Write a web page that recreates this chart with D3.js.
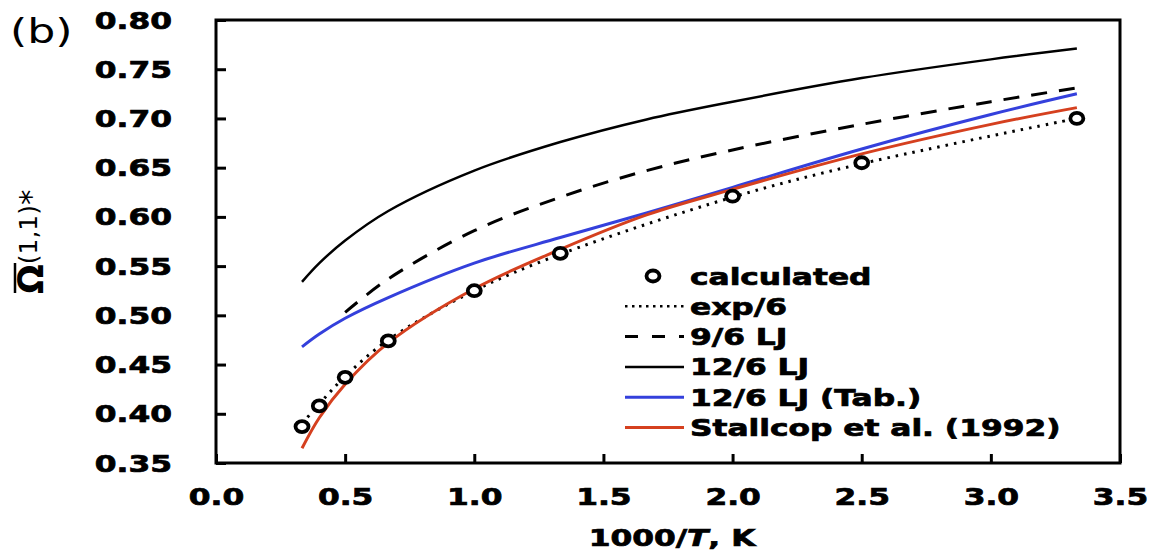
<!DOCTYPE html>
<html>
<head>
<meta charset="utf-8">
<script src="https://cdn.jsdelivr.net/npm/d3@7"></script>
<style>
  html, body { margin: 0; padding: 0; background: #fff; }
  svg { display: block; font-family: 'DejaVu Sans', sans-serif; }
  .heavy { stroke: #000; stroke-width: 0.7px; paint-order: stroke; }
</style>
</head>
<body>
<svg id="chart" width="1153" height="552"></svg>
<script>
// x = 1000/T (K^-1 * 1000), y = reduced collision integral
const xTicks = [0.0, 0.5, 1.0, 1.5, 2.0, 2.5, 3.0, 3.5]
const yTicks = [0.35, 0.40, 0.45, 0.50, 0.55, 0.60, 0.65, 0.70, 0.75, 0.80]

const calcX = [0.333, 0.4, 0.5, 0.667, 1.0, 1.333, 2.0, 2.5, 3.333]
const calcY = [0.387, 0.408, 0.437, 0.474, 0.525, 0.563, 0.621, 0.655, 0.700]

const exp6X = [0.333, 0.4, 0.5, 0.667, 1.0, 1.333, 2.0, 2.5, 3.333]
const exp6Y = [0.390, 0.410, 0.438, 0.475, 0.525, 0.562, 0.620, 0.654, 0.700]

const lj96X = [0.5, 0.667, 1.0, 1.333, 1.667, 2.0, 2.5, 3.0, 3.333]
const lj96Y = [0.503, 0.537, 0.586, 0.620, 0.647, 0.668, 0.694, 0.717, 0.731]

const lj126X = [0.333, 0.4, 0.5, 0.667, 1.0, 1.333, 1.667, 2.0, 2.5, 3.0, 3.333]
const lj126Y = [0.534, 0.553, 0.576, 0.606, 0.647, 0.676, 0.699, 0.717, 0.741, 0.760, 0.771]

const tabX = [0.333, 0.4, 0.5, 0.667, 1.0, 1.333, 1.667, 2.0, 2.5, 3.0, 3.333]
const tabY = [0.468, 0.481, 0.497, 0.518, 0.553, 0.579, 0.604, 0.630, 0.669, 0.704, 0.725]

const stalX = [0.333, 0.4, 0.5, 0.667, 1.0, 1.333, 1.667, 2.0, 2.5, 3.0, 3.333]
const stalY = [0.365, 0.396, 0.430, 0.472, 0.527, 0.567, 0.602, 0.628, 0.664, 0.694, 0.711]

const legendLabels = ['calculated', 'exp/6', '9/6 LJ', '12/6 LJ', '12/6 LJ (Tab.)', 'Stallcop et al. (1992)']

const RED = '#d5401f'
const BLUE = '#3440dc'
const SX = 1.36 // the source figure is stretched horizontally
const FS = 23

const svg = d3.select('#chart')
const plotLeft = 216
const plotRight = 1120
const plotTop = 20
const plotBottom = 463

const x = d3.scaleLinear().domain([0, 3.5]).range([plotLeft, plotRight])
const y = d3.scaleLinear().domain([0.35, 0.80]).range([plotBottom, plotTop])

function zip (xs, ys) {
  return xs.map((v, i) => [v, ys[i]])
}

function stretchedText (g, px, py, str, size, weight, sx) {
  return g.append('text')
    .attr('transform', 'translate(' + px + ',' + py + ') scale(' + sx + ',1)')
    .attr('font-size', size)
    .attr('font-weight', weight)
    .attr('fill', '#000')
    .text(str)
}

// axes (ticks pointing inward)
const xAxis = svg.append('g')
  .attr('transform', 'translate(0,' + plotBottom + ')')
  .call(d3.axisBottom(x).tickValues(xTicks).tickSizeInner(-9).tickSizeOuter(0).tickFormat(d3.format('.1f')))
xAxis.select('.domain').remove()
xAxis.selectAll('line').attr('stroke', '#000').attr('stroke-width', 3)
xAxis.selectAll('text')
  .attr('class', 'heavy')
  .attr('y', 34).attr('dy', '0.35em')
  .attr('transform', 'scale(' + SX + ',1)')
  .attr('font-size', FS).attr('font-weight', 'bold').attr('fill', '#000')
  .attr('font-family', 'DejaVu Sans')

const yAxis = svg.append('g')
  .attr('transform', 'translate(' + plotLeft + ',0)')
  .call(d3.axisLeft(y).tickValues(yTicks).tickSizeInner(-10).tickSizeOuter(0).tickFormat(d3.format('.2f')))
yAxis.select('.domain').remove()
yAxis.selectAll('line').attr('stroke', '#000').attr('stroke-width', 3)
yAxis.selectAll('text')
  .attr('class', 'heavy')
  .attr('x', -(plotLeft - 172) / SX).attr('dy', '0.35em')
  .attr('transform', 'scale(' + SX + ',1)')
  .attr('font-size', FS).attr('font-weight', 'bold').attr('fill', '#000')
  .attr('font-family', 'DejaVu Sans')

// frame
svg.append('rect')
  .attr('x', plotLeft).attr('y', plotTop)
  .attr('width', plotRight - plotLeft).attr('height', plotBottom - plotTop)
  .attr('fill', 'none').attr('stroke', '#000').attr('stroke-width', 3)

// curves
const line = d3.line()
  .x(d => x(d[0]))
  .y(d => y(d[1]))
  .curve(d3.curveCatmullRom.alpha(0.5))

const plot = svg.append('g')

plot.append('path').datum(zip(lj126X, lj126Y))
  .attr('d', line).attr('fill', 'none').attr('stroke', '#000').attr('stroke-width', 2.5)

plot.append('path').datum(zip(lj96X, lj96Y))
  .attr('d', line).attr('fill', 'none').attr('stroke', '#000').attr('stroke-width', 3)
  .attr('stroke-dasharray', '16,12')

plot.append('path').datum(zip(tabX, tabY))
  .attr('d', line).attr('fill', 'none').attr('stroke', BLUE).attr('stroke-width', 3)

plot.append('path').datum(zip(exp6X, exp6Y))
  .attr('d', line).attr('fill', 'none').attr('stroke', '#000').attr('stroke-width', 3)
  .attr('stroke-dasharray', '2.5,6')

plot.append('path').datum(zip(stalX, stalY))
  .attr('d', line).attr('fill', 'none').attr('stroke', RED).attr('stroke-width', 3)

plot.selectAll('ellipse.calc')
  .data(zip(calcX, calcY))
  .enter().append('ellipse')
  .attr('class', 'calc')
  .attr('cx', d => x(d[0])).attr('cy', d => y(d[1]))
  .attr('rx', 6.5).attr('ry', 5.5)
  .attr('fill', '#fff').attr('stroke', '#000').attr('stroke-width', 3.8)

// legend
const legend = svg.append('g')
const ly0 = 276
const lstep = 30.3
const styles = [
  null,
  { stroke: '#000', dash: '2.5,4.5', w: 2.5 },
  { stroke: '#000', dash: '13,14', w: 3 },
  { stroke: '#000', dash: null, w: 2.5 },
  { stroke: BLUE, dash: null, w: 3 },
  { stroke: RED, dash: null, w: 3 }
]
legendLabels.forEach((lab, i) => {
  const ly = ly0 + i * lstep
  if (i === 0) {
    legend.append('ellipse')
      .attr('cx', 653).attr('cy', ly).attr('rx', 6.5).attr('ry', 5.5)
      .attr('fill', '#fff').attr('stroke', '#000').attr('stroke-width', 3.8)
  } else {
    const s = styles[i]
    legend.append('line')
      .attr('x1', 625).attr('x2', 684).attr('y1', ly).attr('y2', ly)
      .attr('stroke', s.stroke).attr('stroke-width', s.w)
      .attr('stroke-dasharray', s.dash)
  }
  stretchedText(legend, 690, ly + 8.5, lab, FS, 'bold', SX).attr('class', 'heavy')
})

// panel tag
stretchedText(svg, 10, 43, '(b)', 34, 'normal', 1.3)

// x axis title
const xt = svg.append('text')
  .attr('class', 'heavy')
  .attr('transform', 'translate(672,546) scale(' + SX + ',1)')
  .attr('text-anchor', 'middle')
  .attr('font-size', FS).attr('font-weight', 'bold')
xt.append('tspan').text('1000/')
xt.append('tspan').attr('font-style', 'italic').text('T')
xt.append('tspan').text(', K')

// y axis title (rotated)
const yt = svg.append('g').attr('transform', 'translate(43,294) rotate(-90)')
const ytText = yt.append('text').attr('fill', '#000')
ytText.append('tspan').attr('font-size', 35).attr('font-weight', 'bold').text('Ω')
ytText.append('tspan').attr('font-size', 25).attr('dy', -6).text('(1,1)')
ytText.append('tspan').attr('font-size', 31).attr('dy', 4).text('*')
yt.append('line')
  .attr('x1', 1).attr('x2', 31).attr('y1', -28).attr('y2', -28)
  .attr('stroke', '#000').attr('stroke-width', 2.5)
</script>
</body>
</html>
